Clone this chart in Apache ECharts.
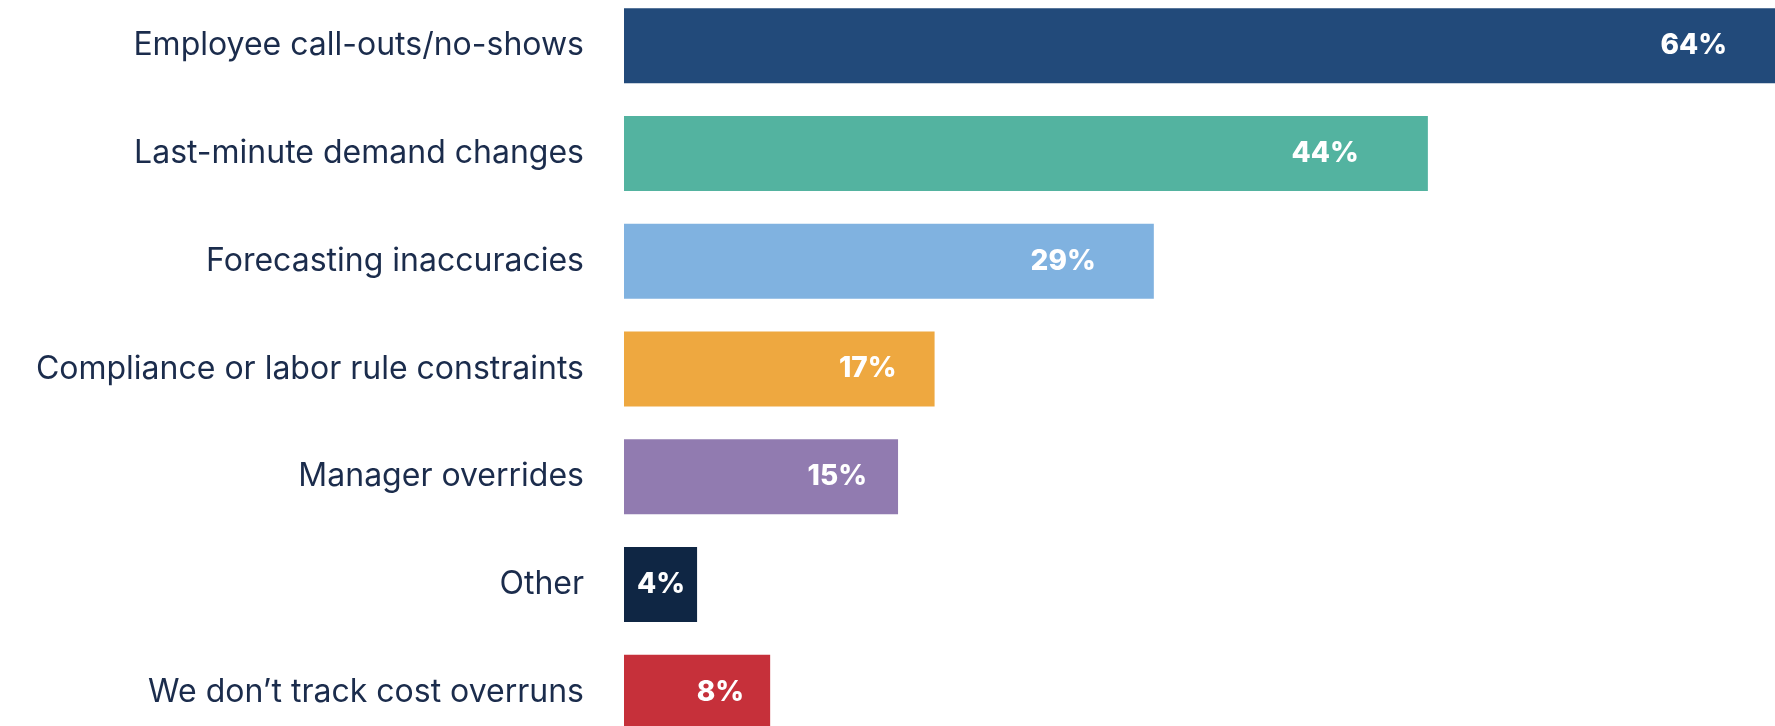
<!DOCTYPE html>
<html>
<head>
<meta charset="utf-8">
<script src="https://cdn.jsdelivr.net/npm/echarts@6/dist/echarts.min.js"></script>
<style>
html,body{margin:0;padding:0;background:#fff;}
#chart{width:1775px;height:726px;}
</style>
</head>
<body>
<div id="chart"></div>
<script>
const categories = [
  "Employee call-outs/no-shows",
  "Last-minute demand changes",
  "Forecasting inaccuracies",
  "Compliance or labor rule constraints",
  "Manager overrides",
  "Other",
  "We don\u2019t track cost overruns"
];
const values = [64, 44, 29, 17, 15, 4, 8];
const barColors = ["#224a7a", "#53b3a0", "#80b2e0", "#eea840", "#917bb0", "#0f2644", "#c6303a"];
const labelGaps = [48, 69, 58, 38, 31, 12, 26];

const chart = echarts.init(document.getElementById('chart'), null, {renderer: 'canvas'});
chart.setOption({
  animation: false,
  grid: {left: 624, right: 0, top: -8, bottom: -20, containLabel: false, outerBoundsMode: 'none'},
  xAxis: {
    type: 'value', min: 0, max: 63,
    show: false
  },
  yAxis: {
    type: 'category', inverse: true, data: categories,
    axisLine: {show: false}, axisTick: {show: false}, splitLine: {show: false},
    axisLabel: {
      margin: 40, color: '#1b2c4c', fontSize: 32,
      fontFamily: 'Inter, "Noto Sans", sans-serif', fontWeight: 400
    }
  },
  series: [{
    type: 'bar',
    barWidth: 75,
    clip: true,
    data: values.map((v, i) => ({
      value: v,
      itemStyle: {color: barColors[i]},
      label: {distance: labelGaps[i]}
    })),
    label: {
      show: true, position: 'insideRight',
      formatter: '{c}%', color: '#ffffff',
      fontSize: 28, fontWeight: 800,
      fontFamily: 'Inter, "Open Sans", sans-serif'
    }
  }]
});
</script>
</body>
</html>
